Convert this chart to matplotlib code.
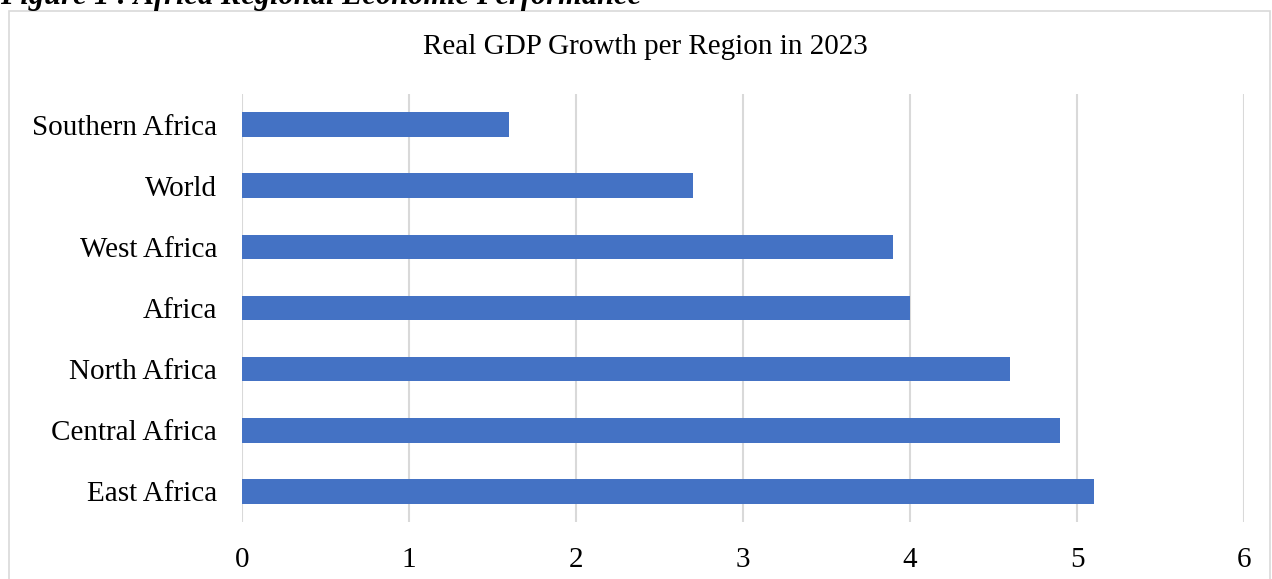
import matplotlib
matplotlib.use("Agg")
import matplotlib.pyplot as plt
from matplotlib.patches import Rectangle

regions = ["East Africa", "Central Africa", "North Africa", "Africa",
           "West Africa", "World", "Southern Africa"]
growth = [5.1, 4.9, 4.6, 4.0, 3.9, 2.7, 1.6]
xticks = [0, 1, 2, 3, 4, 5, 6]
title = "Real GDP Growth per Region in 2023"
header = "Figure 1 : Africa Regional Economic Performance"

W, H = 1272, 579
fig = plt.figure(figsize=(W / 100, H / 100), dpi=100)
fig.patch.set_facecolor("white")

# outer chart frame
fig.patches.append(Rectangle((9 / W, -0.05), (1270 - 9) / W, (H - 11) / H + 0.05,
                             transform=fig.transFigure, fill=False,
                             edgecolor="#d9d9d9", linewidth=1.2))

ax = fig.add_axes([242 / W, 1 - 522 / H, (1244 - 242) / W, (522 - 94) / H])
y = list(range(len(regions)))
ax.barh(y, growth, height=0.4, color="#4472C4", zorder=3)
ax.set_ylim(-0.5, len(regions) - 0.5)
ax.set_xlim(0, 6)
ax.set_xticks(xticks)
ax.set_xticklabels([str(t) for t in xticks])
ax.set_yticks(y)
ax.set_yticklabels(regions)
ax.grid(axis="x", color="#d9d9d9", linewidth=1.5, zorder=0)
for s in ax.spines.values():
    s.set_visible(False)
ax.tick_params(axis="both", length=0, labelsize=21, colors="black")
ax.tick_params(axis="y", pad=18)
ax.tick_params(axis="x", pad=18)
for lab in ax.get_xticklabels() + ax.get_yticklabels():
    lab.set_fontfamily("Liberation Serif")

fig.text(645 / W, 1 - 47 / H, title, ha="center", va="center",
         fontsize=21, family="Liberation Serif")
fig.text(0 / W, 1 - 4 / H, header, ha="left", va="baseline",
         fontsize=22, family="Liberation Serif", fontweight="bold", style="italic")

fig.savefig("out.png", dpi=100)
